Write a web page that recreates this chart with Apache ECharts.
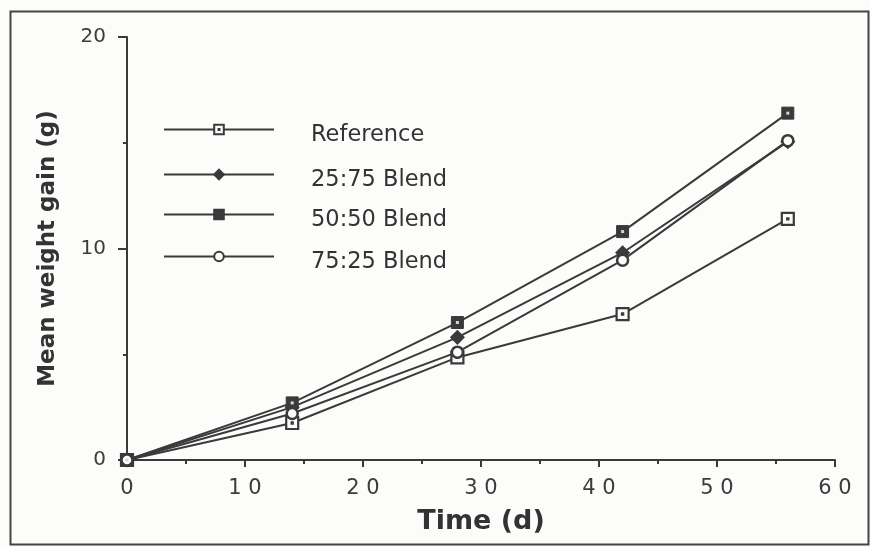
<!DOCTYPE html>
<html>
<head>
<meta charset="utf-8">
<script src="https://cdn.jsdelivr.net/npm/echarts@6/dist/echarts.min.js"></script>
<style>html,body{margin:0;padding:0;background:#fcfcfa;}#c{width:871px;height:547px;}</style>
</head>
<body>
<div id="c"></div>
<script>
const days = [0, 14, 28, 42, 56];
const seriesNames = ['Reference', '25:75 Blend', '50:50 Blend', '75:25 Blend'];
const reference = [0, 1.75, 4.85, 6.9, 11.4];
const blend2575 = [0, 2.5, 5.8, 9.8, 15.05];
const blend5050 = [0, 2.7, 6.5, 10.8, 16.4];
const blend7525 = [0, 2.2, 5.1, 9.45, 15.1];
const xTicks = [0, 10, 20, 30, 40, 50, 60];
const yTicks = [0, 10, 20];

const ink = '#3a3a3a';
const paper = '#fcfcfa';
const font = '"DejaVu Sans", Verdana, sans-serif';
const values = [reference, blend2575, blend5050, blend7525];
const dotSquare = 'path://M0,0H12V12H0Z M5.4,5.4H6.6V6.6H5.4Z';
const symbols = [
  {symbol: dotSquare, size: 12, color: paper, border: ink, bw: 2.2},
  {symbol: 'diamond', size: 13, color: ink, border: ink, bw: 1.5},
  {symbol: 'rect', size: 12, color: ink, border: ink, bw: 1},
  {symbol: 'circle', size: 11, color: paper, border: ink, bw: 2.5}
];
const legendLineY = [129, 174, 214, 256];

const chart = echarts.init(document.getElementById('c'));
const series = seriesNames.map((n, i) => ({
  name: n, type: 'line',
  data: days.map((d, j) => [d, values[i][j]]),
  symbol: symbols[i].symbol, symbolSize: symbols[i].size,
  showAllSymbol: true,
  lineStyle: {color: ink, width: 2},
  itemStyle: {color: symbols[i].color, borderColor: symbols[i].border, borderWidth: symbols[i].bw},
  z: 3 + i
}));
// light centre dot of the 50:50 squares
series.push({
  name: '50:50 dot', type: 'line', silent: true,
  data: days.map((d, j) => [d, blend5050[j]]),
  symbol: 'rect', symbolSize: 3, showAllSymbol: true,
  lineStyle: {width: 0, opacity: 0},
  itemStyle: {color: '#d8d8d8', borderWidth: 0},
  z: 10
});

chart.setOption({
  backgroundColor: paper,
  animation: false,
  grid: {left: 127, right: 36, top: 37, bottom: 87},
  xAxis: {
    type: 'value', min: 0, max: 60, interval: 10,
    name: 'Time (d)', nameLocation: 'middle', nameGap: 48,
    nameTextStyle: {fontFamily: font, fontWeight: 'bold', fontSize: 27, color: '#333'},
    axisLine: {lineStyle: {color: ink, width: 2}},
    axisTick: {show: true, length: 7, inside: false, lineStyle: {color: ink, width: 2}},
    minorTick: {show: true, splitNumber: 2, length: 4, lineStyle: {color: ink, width: 2}},
    axisLabel: {fontFamily: font, fontSize: 21, color: '#3c3c3c', margin: 18,
      formatter: v => xTicks.includes(v) ? String(v).split('').join(' ') : ''},
    splitLine: {show: false}
  },
  yAxis: {
    type: 'value', min: 0, max: 20, interval: 10,
    name: 'Mean weight gain (g)', nameLocation: 'middle', nameGap: 67,
    nameTextStyle: {fontFamily: font, fontWeight: 'bold', fontSize: 23, color: '#333'},
    axisLine: {show: true, lineStyle: {color: ink, width: 2}},
    axisTick: {show: true, length: 9, lineStyle: {color: ink, width: 2}},
    minorTick: {show: true, splitNumber: 2, length: 4, lineStyle: {color: ink, width: 2}},
    axisLabel: {fontFamily: font, fontSize: 20, color: '#3c3c3c', margin: 21,
      formatter: v => yTicks.includes(v) ? String(v) : ''},
    splitLine: {show: false}
  },
  legend: seriesNames.map((n, i) => ({
    data: [n], left: 163, top: legendLineY[i] - 11, orient: 'vertical',
    padding: 0, itemWidth: 110, itemHeight: 12,
    formatter: name => '{s| }{t|' + name + '}',
    textStyle: {
      fontFamily: font, fontSize: 22.5, color: '#333',
      rich: {
        s: {width: 32, height: 34, fontSize: 22.5},
        t: {fontFamily: font, fontSize: 22.5, color: '#333', verticalAlign: 'bottom'}
      }
    },
    selectedMode: false
  })),
  series: series,
  graphic: [{
    type: 'rect', left: 8, top: 9,
    shape: {width: 858, height: 533},
    style: {fill: 'none', stroke: '#444', lineWidth: 2}, silent: true
  }]
});
</script>
</body>
</html>
